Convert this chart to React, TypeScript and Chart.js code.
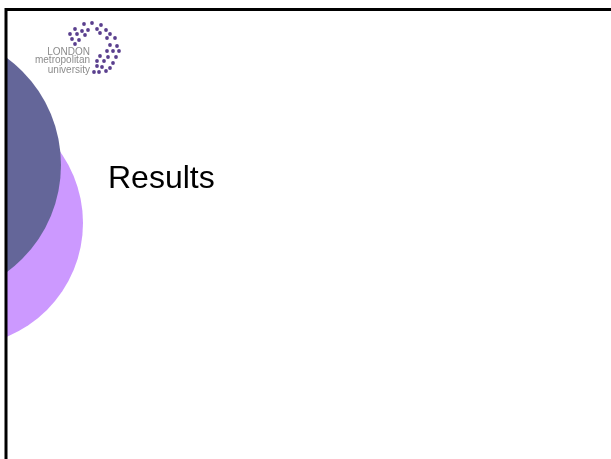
import React, { useEffect, useRef } from "react";
import { Chart, registerables } from "chart.js";

Chart.register(...registerables);

// Slide decoration circles: centre (x, y) in slide pixels, r = radius in px
const circleDark = [{ x: -72, y: 165, r: 133 }];
const circleLight = [{ x: -40, y: 223, r: 123 }];

// Slide frame (left and top edges)
const frameLine = [
  { x: 6, y: 459 },
  { x: 6, y: 9.5 },
  { x: 611, y: 9.5 },
];

// Logo dots (estimated positions)
const logoDots = [
  { x: 84, y: 24 }, { x: 92, y: 23 }, { x: 101, y: 25 },
  { x: 75, y: 29 }, { x: 82, y: 31 }, { x: 88, y: 30 }, { x: 97, y: 29 }, { x: 106, y: 30 },
  { x: 70, y: 34 }, { x: 77, y: 34 }, { x: 85, y: 35 }, { x: 100, y: 33 }, { x: 110, y: 34 },
  { x: 72, y: 39 }, { x: 79, y: 40 }, { x: 107, y: 38 }, { x: 115, y: 38 },
  { x: 75, y: 44 }, { x: 110, y: 45 }, { x: 117, y: 46 },
  { x: 107, y: 51 }, { x: 113, y: 51 }, { x: 119, y: 51 },
  { x: 100, y: 56 }, { x: 108, y: 57 }, { x: 116, y: 57 },
  { x: 97, y: 61 }, { x: 104, y: 61 }, { x: 113, y: 63 },
  { x: 97, y: 66 }, { x: 102, y: 67 }, { x: 110, y: 68 },
  { x: 94, y: 72 }, { x: 99, y: 72 }, { x: 106, y: 71 },
];

const titleText = "Results";
const logoLines = ["LONDON", "metropolitan", "university"];

const textPlugin = {
  id: "slideText",
  afterDraw(chart: any) {
    const { ctx, scales } = chart;
    const sx = scales.x;
    const sy = scales.y;
    ctx.save();
    ctx.fillStyle = "#000000";
    ctx.font = '32px "Liberation Sans", Arial, sans-serif';
    ctx.textAlign = "left";
    ctx.textBaseline = "alphabetic";
    ctx.fillText(titleText, sx.getPixelForValue(108), sy.getPixelForValue(188));

    ctx.fillStyle = "#8c8c8c";
    ctx.font = '10px "Liberation Sans", Arial, sans-serif';
    ctx.textAlign = "right";
    const baselines = [55, 63, 73];
    logoLines.forEach((t, i) => {
      ctx.fillText(t, sx.getPixelForValue(90), sy.getPixelForValue(baselines[i]));
    });
    ctx.restore();
  },
};

export default function App() {
  const ref = useRef<HTMLCanvasElement | null>(null);
  useEffect(() => {
    document.body.style.margin = "0";
    const canvas = ref.current;
    if (!canvas) return;
    const chart = new Chart(canvas, {
      type: "bubble",
      data: {
        datasets: [
          {
            type: "line" as any,
            data: frameLine,
            borderColor: "#000000",
            borderWidth: 3,
            pointRadius: 0,
            fill: false,
            order: 0,
          } as any,
          {
            type: "scatter" as any,
            data: logoDots,
            backgroundColor: "#5a3f8e",
            borderWidth: 0,
            pointRadius: 1.9,
            order: 1,
          } as any,
          {
            data: circleDark,
            backgroundColor: "#646699",
            borderWidth: 0,
            clip: { left: -7, right: 0, top: 0, bottom: 0 },
            order: 2,
          } as any,
          {
            data: circleLight,
            backgroundColor: "#cc99ff",
            borderWidth: 0,
            clip: { left: -7, right: 0, top: 0, bottom: 0 },
            order: 3,
          } as any,
        ],
      },
      options: {
        animation: false,
        responsive: false,
        maintainAspectRatio: false,
        layout: { padding: 0, autoPadding: false },
        events: [],
        plugins: {
          legend: { display: false },
          tooltip: { enabled: false },
          title: { display: false },
        },
        scales: {
          x: { type: "linear", min: 0, max: 611, display: false },
          y: { type: "linear", min: 0, max: 459, reverse: true, display: false },
        },
      },
      plugins: [textPlugin],
    });
    return () => chart.destroy();
  }, []);
  return (
    <div style={{ position: "fixed", left: 0, top: 0, width: 611, height: 459, background: "#ffffff" }}>
      <canvas ref={ref} width={611} height={459} style={{ display: "block" }} />
    </div>
  );
}
